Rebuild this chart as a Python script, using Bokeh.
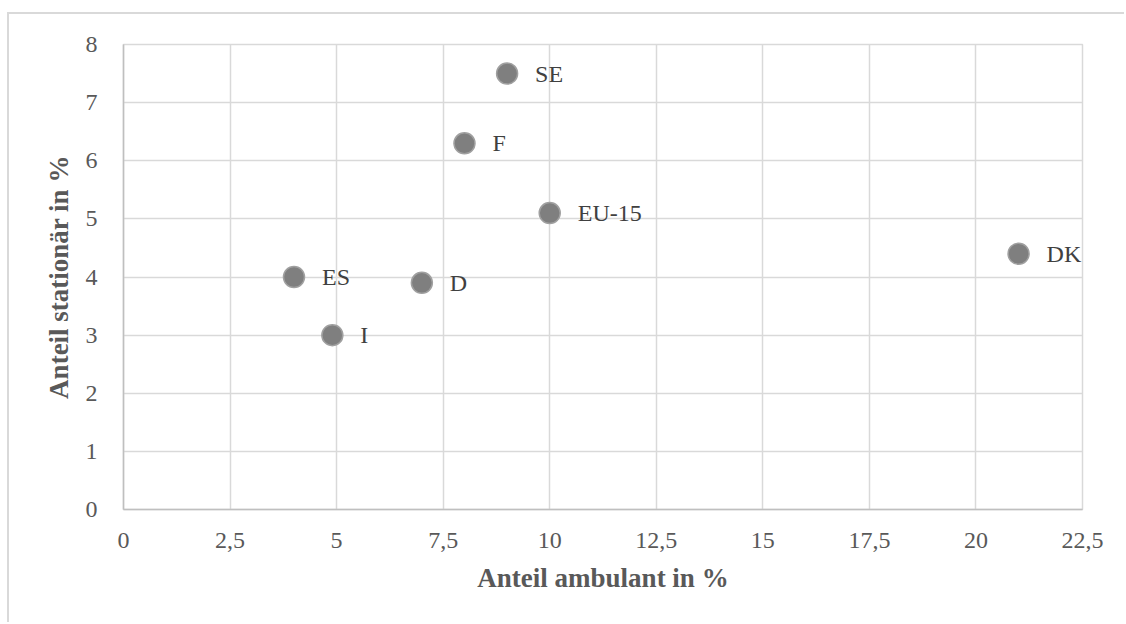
from bokeh.plotting import figure
from bokeh.models import ColumnDataSource, FixedTicker, CustomJSTickFormatter, LabelSet, Range1d
from bokeh.embed import file_html
from bokeh.resources import INLINE

countries = ["SE", "F", "EU-15", "DK", "ES", "D", "I"]
ambulant = [9, 8, 10, 21, 4, 7, 4.9]
stationaer = [7.5, 6.3, 5.1, 4.4, 4.0, 3.9, 3.0]
x_ticks = [0, 2.5, 5, 7.5, 10, 12.5, 15, 17.5, 20, 22.5]
y_ticks = [0, 1, 2, 3, 4, 5, 6, 7, 8]

src = ColumnDataSource(dict(x=ambulant, y=stationaer, name=countries))

FONT = "Liberation Serif"

p = figure(width=1117, height=610, output_backend="svg", toolbar_location=None,
           x_range=Range1d(0, 22.5), y_range=Range1d(0, 8))
p.styles = {"margin-left": "7px", "margin-top": "12px",
            "border-left": "2px solid #d9d9d9", "border-top": "2px solid #d9d9d9"}
p.min_border_left = 114
p.min_border_right = 44
p.min_border_top = 30
p.min_border_bottom = 115
p.background_fill_color = "white"
p.border_fill_color = "white"
p.outline_line_color = "#d9d9d9"
p.outline_line_width = 1.5

p.xaxis.ticker = FixedTicker(ticks=x_ticks)
p.yaxis.ticker = FixedTicker(ticks=y_ticks)
p.xaxis.formatter = CustomJSTickFormatter(code="return String(tick).replace('.', ',');")

for ax in (p.xaxis, p.yaxis):
    ax.major_tick_line_color = None
    ax.minor_tick_line_color = None
    ax.axis_line_color = "#bfbfbf"
    ax.axis_line_width = 1.5
    ax.major_label_text_font = FONT
    ax.major_label_text_font_size = "24px"
    ax.major_label_text_color = "#595959"
    ax.axis_label_text_font = FONT
    ax.axis_label_text_font_size = "27px"
    ax.axis_label_text_font_style = "bold"
    ax.axis_label_text_color = "#595959"

p.xaxis.major_label_standoff = 17
p.yaxis.major_label_standoff = 20
p.xaxis.axis_label = "Anteil ambulant in %"
p.yaxis.axis_label = "Anteil stationär in %"
p.xaxis.axis_label_standoff = 12
p.yaxis.axis_label_standoff = 9

p.grid.grid_line_color = "#d9d9d9"
p.grid.grid_line_width = 1.5

p.scatter("x", "y", source=src, size=21, fill_color="#7f7f7f",
          line_color="#a0a0a0", line_width=1.5)

labels = LabelSet(x="x", y="y", text="name", source=src, x_offset=28, y_offset=0,
                  text_font=FONT, text_font_size="24px", text_color="#404040",
                  text_baseline="middle")
p.add_layout(labels)

open("out.html", "w").write(file_html(p, INLINE))
